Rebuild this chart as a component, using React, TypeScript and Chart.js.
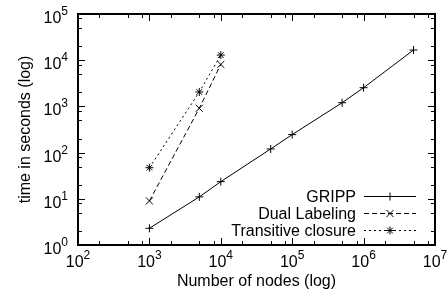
import React, { useEffect, useRef } from "react";
import { Chart, registerables } from "chart.js";

Chart.register(...registerables);

// ---- data ----
const grippNodes = [1e3, 5e3, 1e4, 5e4, 1e5, 5e5, 1e6, 5e6];
const grippTime = [2.3, 11, 23.5, 120, 245, 1200, 2540, 16600];
const dualNodes = [1e3, 5e3, 1e4];
const dualTime = [9, 910, 8100];
const tcNodes = [1e3, 5e3, 1e4];
const tcTime = [47, 2050, 12900];

const seriesLabels = ["GRIPP", "Dual Labeling", "Transitive closure"];
const xMajorTicks = [1e2, 1e3, 1e4, 1e5, 1e6, 1e7];
const yMajorTicks = [1e0, 1e1, 1e2, 1e3, 1e4, 1e5];
const minorMultipliers = [2, 5, 8];
const xTitle = "Number of nodes (log)";
const yTitle = "time in seconds (log)";

const FONT = "Liberation Sans, Arial, Helvetica, sans-serif";

function drawMarker(ctx: CanvasRenderingContext2D, style: string, x: number, y: number, r: number) {
  ctx.beginPath();
  if (style === "cross" || style === "star") {
    ctx.moveTo(x - r, y);
    ctx.lineTo(x + r, y);
    ctx.moveTo(x, y - r);
    ctx.lineTo(x, y + r);
  }
  if (style === "crossRot" || style === "star") {
    const d = r * Math.SQRT1_2;
    ctx.moveTo(x - d, y - d);
    ctx.lineTo(x + d, y + d);
    ctx.moveTo(x - d, y + d);
    ctx.lineTo(x + d, y - d);
  }
  ctx.stroke();
}

const framePlugin = {
  id: "gnuplotFrame",
  afterDraw(chart: any) {
    const ctx: CanvasRenderingContext2D = chart.ctx;
    const { left, right, top, bottom } = chart.chartArea;
    const xs = chart.scales.x;
    const ys = chart.scales.y;
    ctx.save();
    ctx.strokeStyle = "#000";
    ctx.fillStyle = "#000";

    // ticks
    const major = 7;
    const minor = 4;
    ctx.lineWidth = 1;
    ctx.beginPath();
    for (let i = 0; i < xMajorTicks.length; i++) {
      const v = xMajorTicks[i];
      const px = Math.round(xs.getPixelForValue(v)) + 0.5;
      ctx.moveTo(px, bottom); ctx.lineTo(px, bottom - major);
      ctx.moveTo(px, top); ctx.lineTo(px, top + major);
      if (i < xMajorTicks.length - 1) {
        for (const m of minorMultipliers) {
          const p = Math.round(xs.getPixelForValue(v * m)) + 0.5;
          ctx.moveTo(p, bottom); ctx.lineTo(p, bottom - minor);
          ctx.moveTo(p, top); ctx.lineTo(p, top + minor);
        }
      }
    }
    for (let i = 0; i < yMajorTicks.length; i++) {
      const v = yMajorTicks[i];
      const py = Math.round(ys.getPixelForValue(v)) + 0.5;
      ctx.moveTo(left, py); ctx.lineTo(left + major, py);
      ctx.moveTo(right, py); ctx.lineTo(right - major, py);
      if (i < yMajorTicks.length - 1) {
        for (const m of minorMultipliers) {
          const p = Math.round(ys.getPixelForValue(v * m)) + 0.5;
          ctx.moveTo(left, p); ctx.lineTo(left + minor, p);
          ctx.moveTo(right, p); ctx.lineTo(right - minor, p);
        }
      }
    }
    ctx.stroke();

    // frame
    ctx.lineWidth = 2;
    ctx.strokeRect(left, top, right - left, bottom - top);

    // tick labels
    const mainFont = `16px ${FONT}`;
    const supFont = `12px ${FONT}`;
    const raise = 8;
    ctx.textBaseline = "alphabetic";
    const measure = (exp: string) => {
      ctx.font = mainFont;
      const w1 = ctx.measureText("10").width;
      ctx.font = supFont;
      const w2 = ctx.measureText(exp).width;
      return [w1, w2];
    };
    const drawPow = (exp: string, x0: number, base: number) => {
      const [w1] = measure(exp);
      ctx.textAlign = "left";
      ctx.font = mainFont;
      ctx.fillText("10", x0, base);
      ctx.font = supFont;
      ctx.fillText(exp, x0 + w1, base - raise);
    };
    for (const v of xMajorTicks) {
      const exp = String(Math.round(Math.log10(v)));
      const [w1, w2] = measure(exp);
      const px = xs.getPixelForValue(v);
      drawPow(exp, px - (w1 + w2) / 2, bottom + 22);
    }
    for (const v of yMajorTicks) {
      const exp = String(Math.round(Math.log10(v)));
      const [w1, w2] = measure(exp);
      const py = ys.getPixelForValue(v);
      drawPow(exp, left - 10 - (w1 + w2), py + 9);
    }

    // axis titles
    ctx.font = `16px ${FONT}`;
    ctx.textAlign = "center";
    ctx.fillText(xTitle, (left + right) / 2, bottom + 41);
    ctx.save();
    ctx.translate(29.5, (top + bottom) / 2);
    ctx.rotate(-Math.PI / 2);
    ctx.fillText(yTitle, 0, 0);
    ctx.restore();

    // legend
    const textRight = 356;
    const lineStart = 364;
    const lineEnd = 416;
    const rowY = [196.5, 213.5, 230.5];
    chart.data.datasets.forEach((ds: any, i: number) => {
      const y = rowY[i];
      ctx.font = `16px ${FONT}`;
      ctx.textAlign = "right";
      ctx.fillStyle = "#000";
      ctx.fillText(ds.label, textRight, y + 5.5);
      ctx.strokeStyle = ds.borderColor;
      ctx.lineWidth = ds.borderWidth;
      ctx.setLineDash(ds.borderDash || []);
      ctx.beginPath();
      ctx.moveTo(lineStart, y);
      ctx.lineTo(lineEnd, y);
      ctx.stroke();
      ctx.setLineDash([]);
      drawMarker(ctx, ds.pointStyle, (lineStart + lineEnd) / 2, y, ds.pointRadius);
    });

    ctx.restore();
  },
};

export default function App() {
  const ref = useRef<HTMLCanvasElement | null>(null);
  useEffect(() => {
    if (!ref.current) return;
    const mk = (xsArr: number[], ysArr: number[]) => xsArr.map((x, i) => ({ x, y: ysArr[i] }));
    const chart = new Chart(ref.current, {
      type: "line",
      data: {
        datasets: [
          {
            label: seriesLabels[0],
            data: mk(grippNodes, grippTime),
            borderColor: "#000",
            backgroundColor: "#000",
            borderWidth: 1,
            pointStyle: "cross",
            pointRadius: 4,
            pointBorderWidth: 1,
            pointBorderColor: "#000",
            fill: false,
          },
          {
            label: seriesLabels[1],
            data: mk(dualNodes, dualTime),
            borderColor: "#000",
            backgroundColor: "#000",
            borderWidth: 1,
            borderDash: [5, 3],
            pointStyle: "crossRot",
            pointRadius: 5,
            pointBorderWidth: 1,
            pointBorderColor: "#000",
            fill: false,
          },
          {
            label: seriesLabels[2],
            data: mk(tcNodes, tcTime),
            borderColor: "#000",
            backgroundColor: "#000",
            borderWidth: 1,
            borderDash: [2, 3],
            pointStyle: "star",
            pointRadius: 4,
            pointBorderWidth: 1,
            pointBorderColor: "#000",
            fill: false,
          },
        ] as any,
      },
      options: {
        animation: false,
        responsive: false,
        layout: { padding: { left: 78, right: 13, top: 14, bottom: 54 } },
        plugins: { legend: { display: false }, tooltip: { enabled: false } },
        scales: {
          x: { type: "logarithmic", min: 1e2, max: 1e7, display: false },
          y: { type: "logarithmic", min: 1e0, max: 1e5, display: false },
        },
        elements: { line: { tension: 0 } },
      },
      plugins: [framePlugin],
    });
    return () => chart.destroy();
  }, []);
  return (
    <canvas
      ref={ref}
      width={448}
      height={299}
      style={{ position: "absolute", left: 0, top: 0, width: 448, height: 299, background: "#fff" }}
    />
  );
}
